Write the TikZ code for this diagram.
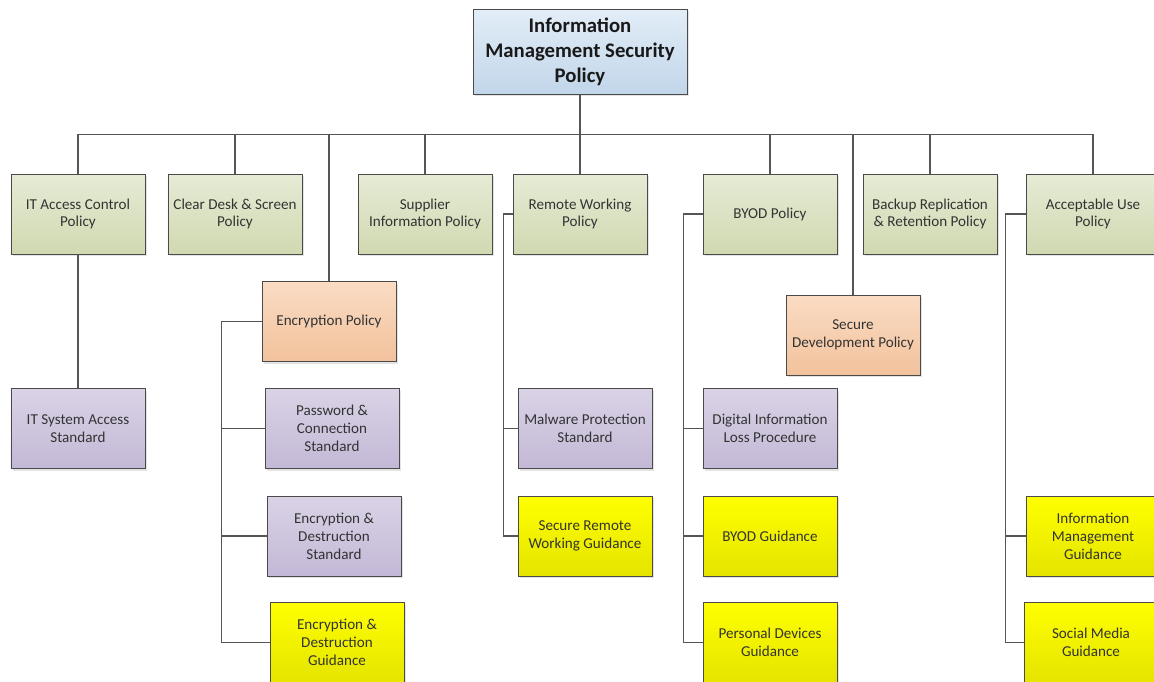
\documentclass[tikz,border=0pt]{standalone}
\usepackage{fontspec}
\setmainfont{Carlito}
\usetikzlibrary{shadows, calc}

\definecolor{edgegray}{HTML}{4A4A4A}
\definecolor{linegray}{HTML}{555555}
\definecolor{bluetop}{HTML}{E2EDF7}
\definecolor{bluebot}{HTML}{C2D6EA}
\definecolor{greentop}{HTML}{E6EBD5}
\definecolor{greenbot}{HTML}{D0D9B1}
\definecolor{orangetop}{HTML}{FADCC4}
\definecolor{orangebot}{HTML}{F2C29C}
\definecolor{purpletop}{HTML}{DAD3E6}
\definecolor{purplebot}{HTML}{C3B8D6}
\definecolor{yellowtop}{HTML}{FFFF00}
\definecolor{yellowbot}{HTML}{E4E400}

\begin{document}
\begin{tikzpicture}[x=0.2mm, y=-0.2mm,
    box/.style={draw=edgegray, line width=0.5pt, rectangle, align=center,
        minimum width=26.8mm, minimum height=16mm, inner sep=1pt,
        font=\fontsize{8.6}{10.2}\selectfont, text=black!80,
        drop shadow={shadow xshift=0.4mm, shadow yshift=-0.4mm, fill=black!22}},
    titlebox/.style={box, minimum width=42.8mm, minimum height=17mm,
        font=\fontsize{11.8}{14.2}\selectfont\bfseries, text=black!90,
        top color=bluetop, bottom color=bluebot},
    policy/.style={box, top color=greentop, bottom color=greenbot},
    subpolicy/.style={box, top color=orangetop, bottom color=orangebot},
    standard/.style={box, top color=purpletop, bottom color=purplebot},
    guidance/.style={box, top color=yellowtop, bottom color=yellowbot},
    link/.style={draw=linegray, line width=0.6pt}]
    \useasboundingbox (0,0) rectangle (1154,682);

    % Nodes
    \node (imsp) [titlebox] at (580,51.5) {Information\\Management Security\\Policy};

    \node (itacc) [policy] at (78,214) {IT Access Control\\Policy};
    \node (cleardesk) [policy] at (235,214) {Clear Desk \& Screen\\Policy};
    \node (supplier) [policy] at (425,214) {Supplier\\Information Policy};
    \node (remote) [policy] at (580,214) {Remote Working\\Policy};
    \node (byod) [policy] at (770,214) {BYOD Policy};
    \node (backup) [policy] at (930,214) {Backup Replication\\\& Retention Policy};
    \node (accuse) [policy] at (1093,214) {Acceptable Use\\Policy};

    \node (encpol) [subpolicy] at (329,321.5) {Encryption Policy};
    \node (secdev) [subpolicy] at (853,335) {Secure\\Development Policy};

    \node (itsys) [standard] at (78,428.5) {IT System Access\\Standard};
    \node (pwdstd) [standard] at (332,428.5) {Password \&\\Connection\\Standard};
    \node (encstd) [standard] at (334,536) {Encryption \&\\Destruction\\Standard};
    \node (encguide) [guidance] at (337,642.5) {Encryption \&\\Destruction\\Guidance};

    \node (malware) [standard] at (585,428.5) {Malware Protection\\Standard};
    \node (remguide) [guidance] at (585,536) {Secure Remote\\Working Guidance};

    \node (dilp) [standard] at (770,428.5) {Digital Information\\Loss Procedure};
    \node (byodguide) [guidance] at (770,536) {BYOD Guidance};
    \node (devguide) [guidance] at (770,642.5) {Personal Devices\\Guidance};

    \node (imguide) [guidance] at (1093,536) {Information\\Management\\Guidance};
    \node (smguide) [guidance] at (1091,642.5) {Social Media\\Guidance};

    % Connectors
    \draw[link] (imsp.south) -- (remote.north);
    \coordinate (bus) at ($(imsp.south)+(0,40)$);
    \draw[link] (itacc.north) -- (itacc.north |- bus) -- (accuse.north |- bus) -- (accuse.north);
    \foreach \n in {cleardesk, encpol, supplier, byod, secdev, backup}
        \draw[link] (\n.north) -- (\n.north |- bus);

    \draw[link] (itacc) -- (itsys);

    \draw[link] (encpol.west) -- ++(-40,0) coordinate (encspine) |- (encguide.west);
    \draw[link] (encspine |- pwdstd.west) -- (pwdstd.west);
    \draw[link] (encspine |- encstd.west) -- (encstd.west);

    \draw[link] (remote.west) -- ++(-9,0) coordinate (remspine) |- (remguide.west);
    \draw[link] (remspine |- malware.west) -- (malware.west);

    \draw[link] (byod.west) -- ++(-19,0) coordinate (byodspine) |- (devguide.west);
    \draw[link] (byodspine |- dilp.west) -- (dilp.west);
    \draw[link] (byodspine |- byodguide.west) -- (byodguide.west);

    \draw[link] (accuse.west) -- ++(-20,0) coordinate (aupspine) |- (smguide.west);
    \draw[link] (aupspine |- imguide.west) -- (imguide.west);
\end{tikzpicture}
\end{document}
